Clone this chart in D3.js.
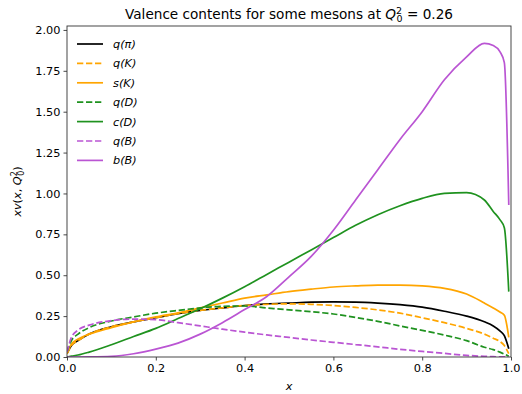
<!DOCTYPE html>
<html>
<head>
<meta charset="utf-8">
<script src="https://cdn.jsdelivr.net/npm/d3@7"></script>
<style>
  body { margin: 0; background: #fff; }
  svg { display: block; font-family: "DejaVu Sans", sans-serif; }
</style>
</head>
<body>
<svg id="chart" width="522" height="394"></svg>
<script>
// x grid shared by every curve
const xs = [0, 0.01, 0.025, 0.05, 0.1, 0.15, 0.2, 0.25, 0.3, 0.35, 0.4, 0.45, 0.5,
  0.55, 0.6, 0.65, 0.7, 0.75, 0.8, 0.85, 0.9, 0.94, 0.96, 0.975, 0.985, 0.995]

const qPi = [0.02, 0.07, 0.10, 0.14, 0.185, 0.215, 0.24, 0.265, 0.285, 0.30, 0.315, 0.325, 0.33,
  0.335, 0.337, 0.336, 0.33, 0.32, 0.305, 0.28, 0.25, 0.215, 0.19, 0.16, 0.13, 0.05]
const qK = [0.02, 0.07, 0.10, 0.14, 0.185, 0.215, 0.24, 0.265, 0.285, 0.30, 0.315, 0.322, 0.325,
  0.322, 0.315, 0.303, 0.288, 0.268, 0.24, 0.21, 0.175, 0.14, 0.115, 0.095, 0.07, 0.02]
const sK = [0.02, 0.08, 0.11, 0.14, 0.18, 0.215, 0.245, 0.27, 0.30, 0.33, 0.36, 0.38, 0.40,
  0.415, 0.428, 0.435, 0.44, 0.44, 0.435, 0.42, 0.385, 0.33, 0.30, 0.275, 0.255, 0.12]
const qD = [0.03, 0.10, 0.14, 0.18, 0.22, 0.245, 0.268, 0.285, 0.30, 0.31, 0.312, 0.30, 0.288,
  0.277, 0.263, 0.242, 0.218, 0.19, 0.163, 0.134, 0.10, 0.06, 0.045, 0.03, 0.018, 0.005]
const cD = [0, 0.005, 0.012, 0.03, 0.075, 0.125, 0.175, 0.235, 0.295, 0.36, 0.43, 0.505, 0.58,
  0.655, 0.73, 0.805, 0.87, 0.925, 0.97, 1.0, 1.005, 0.96, 0.89, 0.84, 0.79, 0.40]
const qB = [0.03, 0.12, 0.165, 0.195, 0.222, 0.232, 0.228, 0.21, 0.19, 0.17, 0.152, 0.135, 0.12,
  0.104, 0.09, 0.076, 0.062, 0.047, 0.034, 0.022, 0.01, 0.004, 0.002, 0.001, 0.0005, 0]
const bB = [0, 0, 0, 0.0005, 0.004, 0.02, 0.048, 0.085, 0.14, 0.21, 0.29, 0.37, 0.49,
  0.615, 0.775, 0.96, 1.145, 1.33, 1.50, 1.695, 1.835, 1.918, 1.905, 1.867, 1.80, 0.93]

const labels = ['q(π)', 'q(K)', 's(K)', 'q(D)', 'c(D)', 'q(B)', 'b(B)']
const xTicks = [0, 0.2, 0.4, 0.6, 0.8, 1.0]
const yTicks = [0, 0.25, 0.5, 0.75, 1.0, 1.25, 1.5, 1.75, 2.0]

const series = [
  { name: labels[0], values: qPi, color: '#000000', dashed: false },
  { name: labels[1], values: qK, color: '#ffa500', dashed: true },
  { name: labels[2], values: sK, color: '#ffa500', dashed: false },
  { name: labels[3], values: qD, color: '#1f921f', dashed: true },
  { name: labels[4], values: cD, color: '#1f921f', dashed: false },
  { name: labels[5], values: qB, color: '#ba55d3', dashed: true },
  { name: labels[6], values: bB, color: '#ba55d3', dashed: false },
]

const plot = { left: 67, right: 511, top: 26, bottom: 357 }
const lw = 1.7
const dash = '6.3,2.7'

const svg = d3.select('#chart')

const x = d3.scaleLinear().domain([0, 1]).range([plot.left, plot.right])
const y = d3.scaleLinear().domain([0, 2.024]).range([plot.bottom, plot.top])

svg.append('clipPath').attr('id', 'plotclip')
  .append('rect')
    .attr('x', plot.left).attr('y', plot.top)
    .attr('width', plot.right - plot.left).attr('height', plot.bottom - plot.top)

// curves
const line = d3.line()
  .x((d, i) => x(xs[i]))
  .y(d => y(d))
  .curve(d3.curveMonotoneX)

svg.append('g')
  .attr('clip-path', 'url(#plotclip)')
  .selectAll('path')
  .data(series)
  .join('path')
    .attr('d', d => line(d.values))
    .attr('fill', 'none')
    .attr('stroke', d => d.color)
    .attr('stroke-width', lw)
    .attr('stroke-dasharray', d => d.dashed ? dash : null)
    .attr('stroke-linejoin', 'round')

// axes
const xAxis = svg.append('g')
  .attr('transform', 'translate(0,' + plot.bottom + ')')
  .call(d3.axisBottom(x).tickValues(xTicks).tickFormat(d3.format('.1f')).tickSize(3.5).tickPadding(3))
const yAxis = svg.append('g')
  .attr('transform', 'translate(' + plot.left + ',0)')
  .call(d3.axisLeft(y).tickValues(yTicks).tickFormat(d3.format('.2f')).tickSize(3.5).tickPadding(3))

for (const g of [xAxis, yAxis]) {
  g.select('.domain').remove()
  g.selectAll('.tick line').attr('stroke', '#333').attr('stroke-width', 0.9)
  g.selectAll('.tick text')
    .attr('fill', '#000')
    .style('font-size', '11.3px')
    .style('font-family', '"DejaVu Sans", sans-serif')
}

// frame
svg.append('rect')
  .attr('x', plot.left).attr('y', plot.top)
  .attr('width', plot.right - plot.left).attr('height', plot.bottom - plot.top)
  .attr('fill', 'none')
  .attr('stroke', '#333')
  .attr('stroke-width', 0.9)

// title
const title = svg.append('text')
  .attr('x', (plot.left + plot.right) / 2)
  .attr('y', 19)
  .attr('text-anchor', 'middle')
  .style('font-size', '13.6px')
title.append('tspan').text('Valence contents for some mesons at ')
title.append('tspan').attr('font-style', 'italic').text('Q')
title.append('tspan').attr('font-size', '9.5px').attr('dy', -5).text('2')
title.append('tspan').attr('font-size', '9.5px').attr('dx', -5.5).attr('dy', 8).text('0')
title.append('tspan').attr('dy', -3).text(' = 0.26')

// x label
svg.append('text')
  .attr('x', (plot.left + plot.right) / 2)
  .attr('y', 390)
  .attr('text-anchor', 'middle')
  .attr('font-style', 'italic')
  .style('font-size', '11.3px')
  .text('x')

// y label
const ylab = svg.append('text')
  .attr('transform', 'translate(21,' + ((plot.top + plot.bottom) / 2) + ') rotate(-90)')
  .attr('text-anchor', 'middle')
  .style('font-size', '11.3px')
ylab.append('tspan').attr('font-style', 'italic').text('xv')
ylab.append('tspan').text('(')
ylab.append('tspan').attr('font-style', 'italic').text('x')
ylab.append('tspan').text(', ')
ylab.append('tspan').attr('font-style', 'italic').text('Q')
ylab.append('tspan').attr('font-size', '8px').attr('dy', -4.5).text('2')
ylab.append('tspan').attr('font-size', '8px').attr('dx', -4.6).attr('dy', 7).text('0')
ylab.append('tspan').attr('dy', -2.5).text(')')

// legend
const legend = svg.append('g')
  .selectAll('g')
  .data(series)
  .join('g')
    .attr('transform', (d, i) => 'translate(77,' + (44 + i * 19.4) + ')')
legend.append('line')
  .attr('x1', 0).attr('x2', 26)
  .attr('stroke', d => d.color)
  .attr('stroke-width', lw)
  .attr('stroke-dasharray', d => d.dashed ? dash : null)
legend.append('text')
  .attr('x', 36)
  .attr('dy', '0.35em')
  .attr('font-style', 'italic')
  .style('font-size', '11.3px')
  .text(d => d.name)
</script>
</body>
</html>
